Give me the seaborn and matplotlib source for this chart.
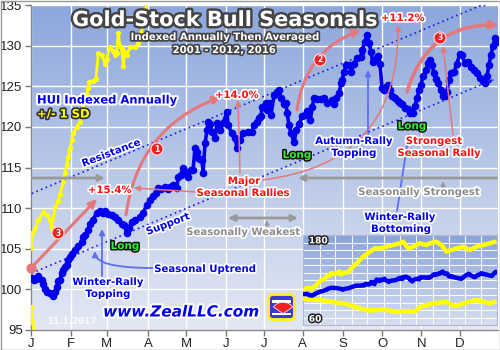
import numpy as np
import pandas as pd
import matplotlib
matplotlib.use("Agg")
import matplotlib.pyplot as plt
import seaborn as sns
from matplotlib import patheffects as pe
from matplotlib.patches import FancyArrowPatch, FancyBboxPatch, Wedge, Rectangle
from matplotlib.colors import LinearSegmentedColormap

# ---------------- data ----------------
month_labels = ["J", "F", "M", "A", "M", "J", "J", "A", "S", "O", "N", "D"]
month_days = [0, 21.6, 41, 63.3, 83.8, 105.5, 126, 147, 168.7, 189.8, 211, 232]
y_ticks = [95, 100, 105, 110, 115, 120, 125, 130, 135]

hui_day = [0.4, 1.6, 2.7, 3.9, 5.8, 6.7, 7.6, 8.5, 10.3, 12.1, 13.0, 13.9, 14.8, 15.7, 16.6, 17.5,
           18.4, 19.3, 20.2, 21.1, 22.0, 23.8, 25.6, 27.4, 28.3, 29.2, 31.0, 31.9, 33.5, 35.5, 37.3,
           38.9, 40.0, 41.6, 43.6, 45.4, 47.0, 49.0, 50.3, 51.7, 53.0, 54.4, 56.2, 58.9, 60.6, 62.6,
           64.3, 66.1, 67.6, 68.7, 70.3, 72.5, 74.1, 75.2, 76.8, 78.9, 79.5, 81.1, 82.2, 83.8, 84.9,
           86.5, 87.6, 88.7, 89.8, 90.3, 91.4, 92.5, 93.0, 94.1, 95.2, 95.7, 96.8, 97.9, 99.5, 100.6,
           102.2, 103.8, 106.0, 106.5, 108.7, 110.3, 111.4, 113.0, 114.6, 117.3, 119.5, 120.6, 122.2,
           123.3, 124.4, 124.9, 126.0, 127.1, 127.6, 128.7, 129.8, 131.4, 133.1, 134.1, 135.2, 136.8,
           137.9, 138.5, 139.5, 140.6, 142.3, 143.3, 145.0, 146.6, 148.2, 149.3, 151.0, 152.0, 153.1,
           154.7, 156.9, 158.5, 160.1, 162.7, 163.8, 164.9, 166.6, 167.7, 168.2, 169.3, 170.4, 172.0,
           173.1, 174.7, 176.3, 178.5, 179.0, 180.7, 181.7, 182.8, 183.9, 184.7, 186.5, 187.6, 188.7,
           189.8, 190.9, 192.0, 193.0, 194.1, 195.2, 196.8, 198.4, 199.5, 200.6, 202.2, 203.8, 204.9,
           206.5, 207.6, 208.7, 209.8, 210.9, 212.0, 213.6, 214.7, 215.7, 216.8, 217.9, 219.0, 220.1,
           221.7, 222.8, 223.8, 224.9, 226.0, 227.1, 228.7, 230.3, 232.0, 233.0, 234.7, 236.3, 237.9,
           239.6, 241.2, 242.8, 244.4, 245.5, 246.6, 247.6, 248.7, 249.8, 250.9, 252.0]
hui_val = [101.4, 101.2, 101.3, 101.6, 101.2, 100.7, 100.0, 99.7, 99.5, 99.2, 99.7, 100.3, 101.0, 101.2,
           102.0, 102.4, 102.8, 103.0, 103.6, 104.0, 104.4, 104.9, 105.3, 105.8, 106.4, 106.7, 107.3,
           108.1, 108.6, 109.4, 109.6, 109.4, 109.6, 109.3, 109.2, 108.9, 108.6, 108.1, 107.9, 107.0,
           107.6, 108.3, 108.5, 108.9, 109.4, 110.4, 111.0, 111.5, 111.9, 112.5, 112.3, 112.6, 112.4,
           112.6, 112.8, 112.5, 113.8, 114.1, 114.9, 114.4, 113.8, 114.7, 114.7, 117.4, 116.9, 116.2,
           116.0, 115.9, 114.3, 118.0, 119.6, 120.6, 120.4, 119.4, 118.6, 120.5, 119.6, 120.5, 121.8,
           120.2, 119.2, 118.6, 117.4, 118.4, 119.2, 119.4, 119.4, 120.2, 120.6, 121.1, 121.3, 122.4,
           122.4, 123.0, 122.1, 122.9, 121.5, 123.9, 124.3, 124.5, 123.5, 122.8, 122.9, 121.7, 120.2,
           119.2, 118.1, 119.6, 120.4, 121.3, 121.5, 121.9, 120.8, 122.4, 123.6, 123.4, 123.4, 123.5,
           123.0, 123.3, 122.8, 123.5, 124.2, 125.4, 125.8, 126.8, 127.6, 127.6, 126.8, 127.8, 128.5,
           128.6, 129.5, 130.5, 131.3, 130.3, 129.2, 128.0, 128.4, 128.7, 127.8, 124.8, 124.5, 124.9,
           125.2, 124.6, 123.8, 123.6, 123.2, 123.0, 122.8, 122.3, 122.2, 121.7, 121.7, 122.6, 123.5,
           124.5, 125.2, 126.3, 127.0, 127.9, 128.2, 127.6, 126.6, 125.9, 125.4, 124.5, 123.8, 123.8,
           124.3, 125.8, 126.6, 126.7, 127.8, 129.0, 128.8, 127.9, 128.0, 127.4, 127.0, 126.6, 126.0,
           125.6, 125.4, 126.3, 127.6, 128.9, 129.9, 130.9, 130.4]

upper_day = [0, 0.7, 2.2, 3.9, 6.7, 8.5, 10.3, 11.2, 13.0, 14.8, 15.7, 17.5, 18.4, 19.3, 20.2, 21.1,
             22.0, 22.9, 24.7, 26.5, 27.4, 28.3, 29.2, 30.1, 31.0, 31.5, 33.5, 35.1, 36.4, 38.2, 40.0,
             40.9, 42.7, 44.5, 45.4, 46.3, 47.2, 48.1, 49.0, 49.9, 50.8, 51.7, 53.5, 56.2, 58.0, 59.5,
             60.6, 61.6, 63.0, 69.8, 78.3, 87.0, 93.5, 100.0, 108.7, 117.3, 126.0, 130.3, 137.0, 143.3,
             152.0, 160.7, 165.0, 173.7, 180.2, 186.7, 193.2, 199.7, 208.3, 217.0, 225.7, 234.4, 243.0,
             249.4]
upper_val = [105.1, 106.9, 107.5, 108.5, 109.5, 109.2, 108.5, 107.5, 110.1, 110.9, 111.8, 113.2, 114.3,
             115.3, 116.3, 117.4, 118.4, 119.2, 120.0, 120.6, 121.5, 122.3, 123.3, 123.9, 124.8, 125.5,
             125.6, 125.9, 129.1, 128.8, 127.8, 128.4, 129.8, 129.3, 128.8, 129.1, 131.5, 130.0, 129.6,
             127.5, 129.2, 128.8, 129.8, 129.8, 130.3, 131.5, 132.5, 134.0, 135.8, 142.2, 151.1, 157.8,
             162.2, 162.2, 164.4, 166.7, 168.9, 171.1, 162.2, 164.4, 168.9, 166.7, 168.9, 171.1, 166.7,
             157.8, 160.0, 162.2, 164.4, 160.0, 164.4, 166.7, 168.9, 171.1]

lower_day = [0, 0.7, 2.2, 9.2, 17.8, 26.5, 35.2, 43.8, 52.5, 61.2, 69.8, 78.5, 87.1, 95.8, 104.5, 113.1,
             121.8, 130.5, 139.1, 145.6, 152.1, 160.7, 169.4, 178.0, 186.7, 193.2, 199.7, 208.4, 217.0,
             225.7, 234.3, 243.0, 249.4]
lower_val = [97.8, 96.0, 94.5, 93.8, 93.3, 92.8, 91.1, 89.8, 88.9, 86.7, 83.6, 80.9, 79.1, 80.0, 80.9,
             79.1, 77.8, 78.7, 77.8, 77.8, 83.6, 86.7, 88.9, 89.8, 91.1, 86.7, 85.3, 88.9, 91.1, 93.3,
             91.1, 88.9, 91.1]

support_day = [0.4, 250.0]
support_val = [102.0, 125.8]
resist_day = [0.4, 247.0]
resist_val = [111.8, 135.3]

# ---------------- style ----------------
sns.set_theme(style="white")
plt.rcParams['font.family'] = ['DejaVu Sans']

W, H = 500, 350
fig = plt.figure(figsize=(5, 3.5), dpi=100)
fig.patch.set_facecolor('white')

L, R, T, B = 31, 498, 5, 330
XMAX = 252.5
ax = fig.add_axes([L / W, 1 - B / H, (R - L) / W, (B - T) / H])


def P(px, py):
    """pixel position in the picture -> data position in the main axes"""
    return ((px - L) * XMAX / (R - L), 135 - (py - T) * 40 / (B - T))


grad = np.linspace(0, 1, 256).reshape(-1, 1)
bg = LinearSegmentedColormap.from_list('bg', ['#e3e8f3', '#8da7dc'])
ax.imshow(grad, extent=[0, XMAX, 95, 135], origin='lower', aspect='auto', cmap=bg, zorder=-2)

ax.set_xlim(0, XMAX)
ax.set_ylim(95, 135)
ax.set_xticks(month_days)
ax.set_xticklabels(month_labels)
ax.set_yticks(y_ticks)
ax.set_yticklabels([str(v) for v in y_ticks])
ax.set_axisbelow(True)
ax.grid(True, color='white', lw=1)
ax.tick_params(axis='both', direction='out', length=4, width=1, color='#777777',
               labelsize=9.5, labelcolor='#222222', pad=2, left=True, bottom=True)
for lbl in ax.get_xticklabels() + ax.get_yticklabels():
    lbl.set_fontfamily(['Liberation Sans', 'DejaVu Sans'])
for s in ['top', 'right']:
    ax.spines[s].set_visible(False)
for s in ['left', 'bottom']:
    ax.spines[s].set_color('#888888')
    ax.spines[s].set_linewidth(1)

# support / resistance
blue_dot = '#1a1aee'
for d, v in [(support_day, support_val), (resist_day, resist_val)]:
    sns.lineplot(x=d, y=v, ax=ax, color=blue_dot, lw=1.2, linestyle=(0, (1, 2)), zorder=3)
    a = FancyArrowPatch((d[1] - 2.5, v[1] - 0.24), (d[1], v[1]), arrowstyle='-|>',
                        mutation_scale=9, color=blue_dot, lw=0, zorder=3)
    ax.add_patch(a)

# series
df_up = pd.DataFrame({'day': upper_day, 'value': upper_val})
df_lo = pd.DataFrame({'day': lower_day, 'value': lower_val})
df_hui = pd.DataFrame({'day': hui_day, 'value': hui_val})
for df in (df_up, df_lo):
    sns.lineplot(data=df, x='day', y='value', ax=ax, color='#ffff00', lw=2, marker='o',
                 markersize=3.8, markeredgewidth=0, sort=False, estimator=None, zorder=4)
sns.lineplot(data=df_hui, x='day', y='value', ax=ax, color='#0000ee', lw=2.6, marker='o',
             markersize=5.5, markeredgewidth=0, sort=False, estimator=None, zorder=6)
ax.set_xlabel('')
ax.set_ylabel('')

# ---------------- annotations ----------------
RED = '#e5787c'
REDT = '#ff1111'
BLUE = '#0000ee'
PBLUE = '#5d6ff0'
GRAY = '#9a9a9a'


def label(px, py, s, color, size=7.3, stroke='white', sw=2.5, rot=0, ha='center', style='normal'):
    x, y = P(px, py)
    ax.text(x, y, s, color=color, fontsize=size, fontweight='bold', ha=ha, va='center',
            rotation=rot, style=style, rotation_mode='anchor',
            path_effects=[pe.withStroke(linewidth=sw, foreground=stroke)], zorder=12)


def arrow(p1, p2, color, lw, rad=0.0, ms=9, style='-|>', cs=None, z=8):
    a = FancyArrowPatch(P(*p1), P(*p2), arrowstyle=style, mutation_scale=ms, color=color, lw=lw,
                        connectionstyle=cs or f'arc3,rad={rad}', zorder=z, shrinkA=0, shrinkB=0)
    ax.add_patch(a)


def circ(px, py, s):
    x, y = P(px, py)
    ax.text(x, y, s, color='white', fontsize=5.5, fontweight='bold', ha='center', va='center',
            bbox=dict(boxstyle='circle,pad=0.2', fc='#ee2222', ec='#ffdddd', lw=0.8), zorder=13)


# big red rally arrows
sx, sy = P(31, 268)
ax.scatter([sx], [sy], s=40, color=RED, zorder=9, clip_on=False)
arrow((31, 268), (97, 199), RED, 2.2, rad=0.0, ms=11)
arrow((126, 215), (221, 97), RED, 2.2, rad=-0.3, ms=11)
arrow((297, 110), (361, 30), RED, 2.2, rad=-0.3, ms=11)
arrow((407, 92), (499, 25), RED, 2.6, rad=-0.38, ms=12)
circ(58, 233, '3')
circ(157, 149, '1')
circ(320, 60, '2')
circ(440, 38, '3')

# thin red pointers
arrow((197, 192), (134, 188), RED, 1.1, ms=8)
arrow((240, 173), (238, 100), RED, 1.1, ms=8)
arrow((262, 180), (398, 25), RED, 1.1, rad=0.45, ms=8)
arrow((453, 135), (443, 46), RED, 1.1, ms=8)

# blue pointers
arrow((368, 136), (368, 70), PBLUE, 1.3, ms=8)
arrow((102, 276), (102, 229), PBLUE, 1.3, ms=8)
arrow((397, 211), (409, 133), PBLUE, 1.3, ms=8)
arrow((153, 268), (95, 251), PBLUE, 1.3, ms=8, cs='angle3,angleA=0,angleB=90')

# gray arrows
arrow((31, 178), (105, 178), GRAY, 2, ms=9)
arrow((497, 178), (298, 178), GRAY, 2, ms=9)
arrow((443, 189), (443, 181), GRAY, 1.2, ms=6)
arrow((228, 218), (298, 218), GRAY, 2, ms=9, style='<|-|>')
arrow((267, 226), (267, 220), GRAY, 1.2, ms=6)

# texts
x0, y0 = P(225, 20)
ax.text(x0, y0, 'Gold-Stock Bull Seasonals', color='white', fontsize=15, fontweight='bold',
        ha='center', va='center', path_effects=[pe.withStroke(linewidth=3.5, foreground='#444444')],
        zorder=12)
label(225, 37, 'Indexed Annually Then Averaged', 'white', size=7.3, stroke='#444444', sw=2.5)
label(224, 50, '2001 - 2012, 2016', 'white', size=7.3, stroke='#444444', sw=2.5)

label(37, 100, 'HUI Indexed Annually', BLUE, size=8.3, sw=3, ha='left')
label(37, 114, '+/- 1 SD', '#ffff00', size=8.3, stroke='#333333', sw=2.5, ha='left')

label(111, 153, 'Resistance', BLUE, rot=21)
label(168, 224, 'Support', BLUE, rot=21)

label(403, 18, '+11.2%', REDT)
label(237, 95, '+14.0%', REDT)
label(110, 190, '+15.4%', REDT)
label(244, 181, 'Major', REDT)
label(243, 193, 'Seasonal Rallies', REDT)
label(434, 141, 'Strongest', REDT)
label(439, 153, 'Seasonal Rally', REDT)

label(354, 141, 'Autumn-Rally', BLUE)
label(354, 153, 'Topping', BLUE)
label(400, 217, 'Winter-Rally', BLUE)
label(401, 229, 'Bottoming', BLUE)
label(108, 282, 'Winter-Rally', BLUE)
label(108, 294, 'Topping', BLUE)
label(205, 269, 'Seasonal Uptrend', BLUE)

label(419, 192, 'Seasonally Strongest', '#8c8c8c')
label(243, 232, 'Seasonally Weakest', '#8c8c8c')

for (lx, ly) in [(125, 246), (297, 155), (412, 126)]:
    label(lx, ly, 'Long', '#33ee33', size=7.5, stroke='#111111', sw=2.2)

label(181, 312, 'www.ZealLLC.com', BLUE, size=11, sw=3, style='italic')
x1, y1 = P(72, 322)
ax.text(x1, y1, '11.1.2017', color='white', fontsize=6.3, fontweight='bold', ha='center',
        va='center', alpha=0.9, zorder=12)

# ---------------- inset ----------------
IL, IR, IT, IB = 303, 497, 235, 325
axi = fig.add_axes([IL / W, 1 - IB / H, (IR - IL) / W, (IB - IT) / H])
bgi = LinearSegmentedColormap.from_list('bgi', ['#d6deef', '#8aa3da'])
axi.imshow(grad, extent=[0, XMAX, 60, 180], origin='lower', aspect='auto', cmap=bgi, zorder=-2)
axi.set_xlim(0, XMAX)
axi.set_ylim(60, 180)
axi.set_xticks(month_days)
axi.set_yticks(list(range(60, 181, 10)))
axi.set_xticklabels([])
axi.set_yticklabels([])
axi.tick_params(length=0)
axi.set_axisbelow(True)
axi.grid(True, color='white', lw=0.8, alpha=0.9)
for s in axi.spines.values():
    s.set_color('#b0b8d0')
    s.set_linewidth(0.8)
for df in (df_up, df_lo):
    sns.lineplot(data=df, x='day', y='value', ax=axi, color='#ffff00', lw=3.2, sort=False,
                 estimator=None, zorder=4)
sns.lineplot(data=df_hui, x='day', y='value', ax=axi, color='#0000ee', lw=3.2, sort=False,
             estimator=None, zorder=5)
axi.set_xlabel('')
axi.set_ylabel('')
axi.text(0.03, 0.985, '180', transform=axi.transAxes, color='white', fontsize=6.5,
         fontweight='bold', ha='left', va='top',
         path_effects=[pe.withStroke(linewidth=2.2, foreground='#222222')], zorder=10)
axi.text(0.03, 0.015, '60', transform=axi.transAxes, color='white', fontsize=6.5,
         fontweight='bold', ha='left', va='bottom',
         path_effects=[pe.withStroke(linewidth=2.2, foreground='#222222')], zorder=10)

# ---------------- logo ----------------
lg = fig.add_axes([266 / W, 1 - 322 / H, 31 / W, 30 / H])
lg.set_xlim(0, 1)
lg.set_ylim(0, 1)
lg.axis('off')
lg.add_patch(FancyBboxPatch((0.08, 0.08), 0.84, 0.84, boxstyle='round,pad=0,rounding_size=0.15',
                            fc='#3a3acc', ec='#ffee22', lw=2.2))
lg.add_patch(Rectangle((0.18, 0.62), 0.64, 0.1, fc='white', ec='none'))
lg.add_patch(Rectangle((0.18, 0.22), 0.64, 0.08, fc='white', ec='none'))
lg.add_patch(Wedge((0.55, 0.28), 0.38, 35, 145, fc='#ee2222', ec='white', lw=0.5))

fig.add_artist(Rectangle((0.001, 0.001), 0.998, 0.997, transform=fig.transFigure, fill=False,
                         ec='#999999', lw=1))

fig.savefig('out.png', dpi=100)
